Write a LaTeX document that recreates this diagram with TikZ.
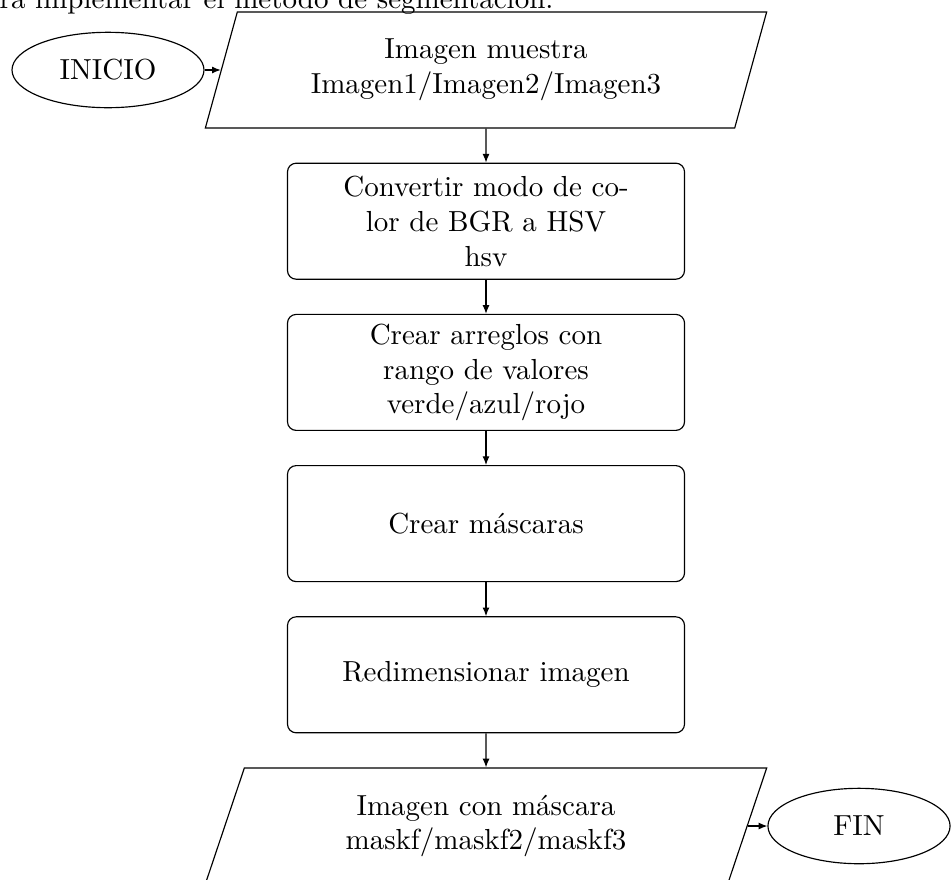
\documentclass[tikz,border=0pt]{standalone}
\usetikzlibrary{shapes.geometric,arrows.meta}
\begin{document}
\begin{tikzpicture}[x=0.3448pt,y=-0.3448pt,
  every node/.style={font=\fontsize{10}{12}\selectfont},
  term/.style={draw, ellipse, minimum height=26pt, inner sep=0pt},
  io/.style={draw, trapezium, trapezium left angle=70, trapezium right angle=110,
    trapezium stretches=true, minimum width=193.8pt, minimum height=40pt,
    align=center, inner sep=0pt},
  proc/.style={draw, rounded corners=3pt, minimum width=136.9pt, minimum height=40pt,
    align=center, inner sep=0pt},
  flow/.style={-{Latex[length=3pt,width=2.4pt]}, line width=0.4pt}]
\useasboundingbox (0,0) rectangle (951,879);
\node[anchor=base east, inner sep=0pt] (cap) at (554,8) {ra implementar el método de segmentación.};
\node[term, minimum width=66.2pt] (ini) at (108,70) {INICIO};
\node[io] (in) at (486,70) {Imagen muestra\\Imagen1/Imagen2/Imagen3};
\node[proc] (p1) at (486,221.2) {Convertir modo de co-\\lor de BGR a HSV\\hsv};
\node[proc] (p2) at (486,372.4) {Crear arreglos con\\rango de valores\\verde/azul/rojo};
\node[proc] (p3) at (486,523.6) {Crear máscaras};
\node[proc] (p4) at (486,674.8) {Redimensionar imagen};
\node[io] (out) at (486,826) {Imagen con máscara\\maskf/maskf2/maskf3};
\node[term, minimum width=62.8pt] (fin) at (859,826) {FIN};
\draw[flow] (ini) -- (in.left side);
\draw[flow] (in) -- (p1);
\draw[flow] (p1) -- (p2);
\draw[flow] (p2) -- (p3);
\draw[flow] (p3) -- (p4);
\draw[flow] (p4) -- (out);
\draw[flow] (out.right side) -- (fin);
\end{tikzpicture}
\end{document}
